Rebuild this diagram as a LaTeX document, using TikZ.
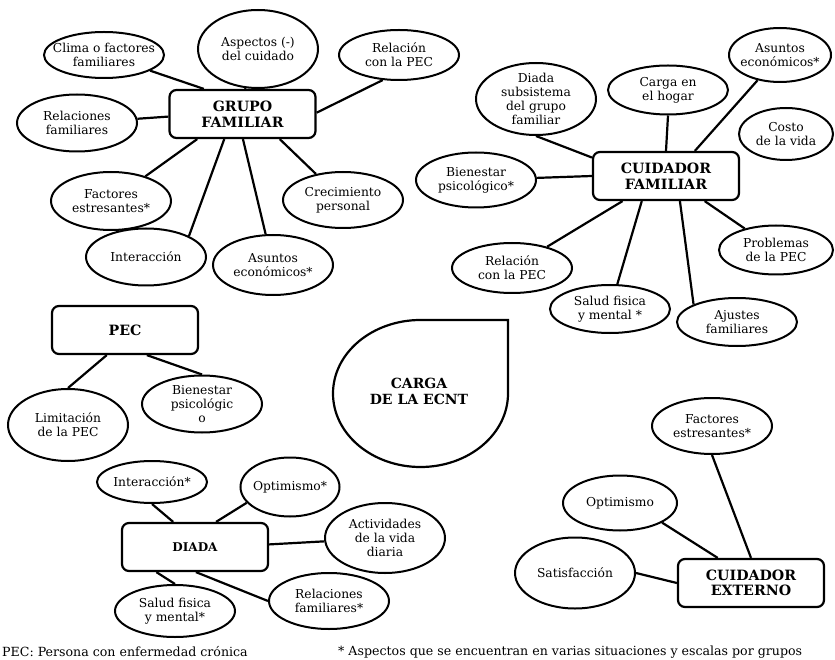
\documentclass[tikz,border=0pt]{standalone}
\usepackage{fontspec}
\setmainfont{DejaVu Serif}
\usetikzlibrary{shapes.geometric}
\begin{document}
\begin{tikzpicture}[x=1pt, y=-1pt,
    idea/.style={ellipse, draw, line width=2pt, inner xsep=-20pt, inner ysep=-14pt,
        align=center, minimum width=120pt, minimum height=52pt,
        font=\fontsize{12.3}{14}\selectfont},
    eje/.style={rectangle, draw, line width=2.2pt, rounded corners=7pt, align=center,
        minimum width=146pt, minimum height=48pt,
        font=\fontsize{14.2}{15.5}\selectfont\bfseries},
    enlace/.style={line width=2.2pt},
    nota/.style={font=\fontsize{12.6}{14}\selectfont, inner sep=0pt}]
    \useasboundingbox (0,0) rectangle (835,660);

    % Grupo familiar
    \node[eje] (grupo) at (242.5,114) {GRUPO\\FAMILIAR};
    \node[idea, minimum height=46pt] (clima) at (104,55) {Clima o factores\\familiares};
    \node[idea, minimum height=78pt] (aspectos) at (258,49) {Aspectos (-)\\del cuidado};
    \node[idea, minimum height=50pt] (relg) at (399,55) {Relación\\con la PEC};
    \node[idea, minimum height=57pt] (relfam) at (77,123) {Relaciones\\familiares};
    \node[idea, minimum height=58pt] (factg) at (111,201) {Factores\\estresantes*};
    \node[idea, minimum height=56pt] (crec) at (343,200) {Crecimiento\\personal};
    \node[idea, minimum height=57pt] (interg) at (146,257) {Interacción};
    \node[idea, minimum height=60pt] (asuntg) at (273,265) {Asuntos\\económicos*};

    \draw[enlace] (grupo.147) -- (clima);
    \draw[enlace] (grupo.84) -- (aspectos);
    \draw[enlace] (grupo.1) -- (relg.237);
    \draw[enlace] (grupo.182) -- (relfam);
    \draw[enlace] (grupo.209) -- (factg);
    \draw[enlace] (grupo.234) -- (interg.26);
    \draw[enlace] (grupo.271) -- (asuntg);
    \draw[enlace] (grupo.326) -- (crec);

    % Cuidador familiar
    \node[eje] (cuidf) at (666,176) {CUIDADOR\\FAMILIAR};
    \node[idea, minimum height=72pt] (diada) at (536,99) {Diada\\subsistema\\del grupo\\familiar};
    \node[idea, minimum height=49pt] (hogar) at (668,90) {Carga en\\el hogar};
    \node[idea, minimum width=102pt, minimum height=54pt] (asuntf) at (780,55) {Asuntos\\económicos*};
    \node[idea, minimum width=94pt, minimum height=52pt] (costo) at (786,134) {Costo\\de la vida};
    \node[idea, minimum height=55pt] (bienf) at (476,180) {Bienestar\\psicológico*};
    \node[idea, minimum height=50pt] (relf) at (512,268) {Relación\\con la PEC};
    \node[idea, minimum height=48pt] (saludf) at (610,309) {Salud fisica\\y mental *};
    \node[idea, minimum width=114pt, minimum height=49pt] (problemas) at (776,250) {Problemas\\de la PEC};
    \node[idea, minimum height=48pt] (ajustes) at (737,322) {Ajustes\\familiares};

    \draw[enlace] (cuidf.166) -- (diada.south);
    \draw[enlace] (cuidf.north) -- (hogar.south);
    \draw[enlace] (cuidf.41) -- (asuntf);
    \draw[enlace] (cuidf.west) -- (bienf);
    \draw[enlace] (cuidf.210) -- (relf);
    \draw[enlace] (cuidf.226) -- (saludf);
    \draw[enlace] (cuidf.299) -- (ajustes.158);
    \draw[enlace] (cuidf.327) -- (problemas);

    % PEC
    \node[eje] (pec) at (125,330) {PEC};
    \node[idea, minimum height=72pt] (limit) at (68,425) {Limitación\\de la PEC};
    \node[idea, minimum height=57pt] (bienp) at (202,404) {Bienestar\\psicológic\\o};

    \draw[enlace] (pec.234) -- (limit.north);
    \draw[enlace] (pec.311) -- (bienp.north);

    % Carga de la ECNT (centro)
    \draw[line width=2.2pt] (420.5,320) -- (508,320) -- (508,393.5)
        arc[start angle=0, end angle=-270, x radius=87.5pt, y radius=73.5pt] -- cycle;
    \node[font=\fontsize{14}{16}\selectfont\bfseries, align=center] (carga) at (419,391) {CARGA\\DE LA ECNT};

    % Diada
    \node[eje, font=\fontsize{12}{14}\selectfont\bfseries] (diadab) at (195,547) {DIADA};
    \node[idea, minimum width=110pt, minimum height=42pt] (interd) at (152,482) {Interacción*};
    \node[idea, minimum width=99pt, minimum height=59pt] (optd) at (290,487) {Optimismo*};
    \node[idea, minimum height=70pt] (activ) at (385,538) {Actividades\\de la vida\\diaria};
    \node[idea, minimum height=56pt] (relfd) at (329,601) {Relaciones\\familiares*};
    \node[idea, minimum height=52pt] (saludd) at (175,611) {Salud fisica\\y mental*};

    \draw[enlace] (diadab.131) -- (interd.south);
    \draw[enlace] (diadab.50) -- (optd.200);
    \draw[enlace] (diadab.2) -- (activ);
    \draw[enlace] (diadab.272) -- (relfd.west);
    \draw[enlace] (diadab.213) -- (saludd.north);

    % Cuidador externo
    \node[eje] (cuide) at (751,583) {CUIDADOR\\EXTERNO};
    \node[idea, minimum height=56pt] (factc) at (712,426) {Factores\\estresantes*};
    \node[idea, minimum width=114pt, minimum height=55pt] (optc) at (620,503) {Optimismo};
    \node[idea, minimum height=71pt] (satisf) at (575,573) {Satisfacción};

    \draw[enlace] (cuide.north) -- (factc.south);
    \draw[enlace] (cuide.143) -- (optc.-25);
    \draw[enlace] (cuide.west) -- (satisf.east);

    % Notas
    \node[nota, anchor=west] (notapec) at (2,652) {PEC: Persona con enfermedad crónica};
    \node[nota, anchor=west] (notaast) at (338,652) {* Aspectos que se encuentran en varias situaciones y escalas por grupos};
\end{tikzpicture}
\end{document}
